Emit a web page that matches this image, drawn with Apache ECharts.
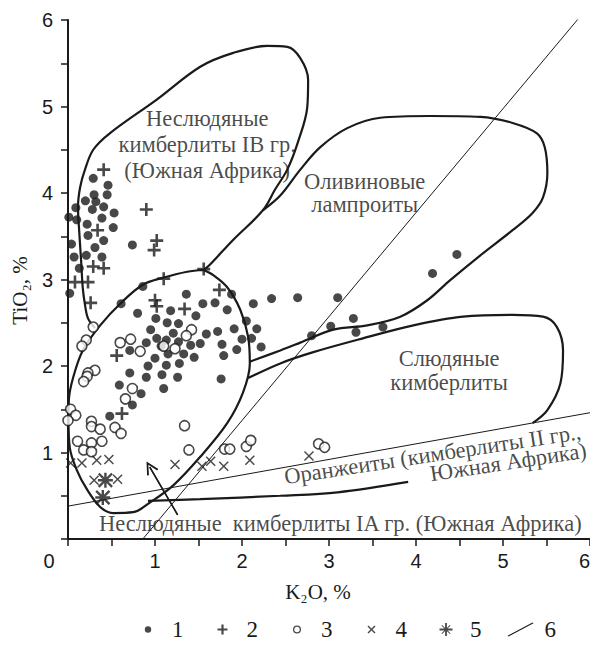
<!DOCTYPE html>
<html><head><meta charset="utf-8">
<script src="https://cdn.jsdelivr.net/npm/echarts@6/dist/echarts.min.js"></script>
<style>html,body{margin:0;padding:0;background:#fff}#c{width:590px;height:646px}</style>
</head><body><div id="c"></div>
<script>
// ---------------- data (K2O %, TiO2 %) ----------------
const xTicks = [0, 1, 2, 3, 4, 5, 6];
const yTicks = [1, 2, 3, 4, 5, 6];

// 1 — filled dots
const series1 = [
 [0.29,4.17],[0.46,4.09],[0.30,3.98],[0.45,3.98],[0.20,3.91],[0.32,3.90],[0.41,3.84],[0.09,3.83],[0.28,3.81],[0.53,3.77],
 [0.01,3.72],[0.10,3.69],[0.39,3.71],[0.22,3.64],[0.52,3.60],[0.23,3.51],[0.41,3.45],[0.04,3.41],[0.31,3.37],[0.74,3.40],
 [0.07,3.26],[0.21,3.28],[0.39,3.26],[0.13,3.13],[0.02,2.84],
 [0.86,2.92],[0.61,2.72],[1.36,2.83],[1.55,2.72],[0.80,2.61],[1.18,2.64],[1.47,2.58],[1.01,2.55],[1.14,2.50],[1.27,2.49],
 [0.95,2.42],[1.21,2.38],[1.59,2.37],[1.13,2.30],[1.27,2.28],[0.90,2.27],[1.02,2.32],[1.41,2.24],[1.52,2.26],[0.71,2.18],
 [1.07,2.23],[1.15,2.14],[1.33,2.14],[1.45,2.10],[1.00,2.09],[0.92,2.00],[1.13,2.01],[1.28,2.03],[0.71,1.92],[0.90,1.87],
 [1.08,1.90],[1.26,1.87],[0.59,1.78],[1.10,1.74],[0.84,1.68],[0.74,1.55],[0.48,1.42],
 [1.88,2.83],[2.13,2.72],[2.34,2.78],[2.64,2.79],[1.69,2.73],[1.83,2.65],[2.05,2.52],[2.17,2.43],[1.91,2.43],[1.72,2.40],
 [2.00,2.31],[2.11,2.32],[2.22,2.22],[1.77,2.25],[1.94,2.19],[1.79,2.12],[1.76,1.85],[2.80,2.35],[3.10,2.79],[4.47,3.29],
 [4.19,3.07],[3.28,2.55],[3.02,2.46],[3.31,2.39],[3.62,2.45]
];
// 2 — crosses
const series2 = [
 [0.41,4.27],[0.90,3.81],[0.34,3.57],[1.02,3.45],[0.99,3.34],[0.29,3.15],[0.41,3.13],[0.08,2.97],[0.23,2.97],[0.26,2.73],
 [1.10,3.01],[1.56,3.12],[1.00,2.76],[1.02,2.69],[1.34,2.66],[1.74,2.88],[0.56,2.12],[0.62,1.45]
];
// 3 — open circles
const series3 = [
 [0.29,2.45],[0.21,2.30],[0.16,2.23],[0.60,2.27],[0.72,2.31],[0.83,2.17],[1.42,2.42],[1.36,2.35],[1.23,2.20],[1.10,2.23],
 [0.31,1.95],[0.23,1.92],[0.22,1.88],[0.18,1.82],[0.74,1.74],[0.66,1.62],[0.03,1.50],[0.09,1.43],[0.00,1.37],[0.27,1.36],
 [0.27,1.30],[0.37,1.27],[0.54,1.29],[0.61,1.22],[0.11,1.13],[0.27,1.11],[0.39,1.13],[0.18,1.03],[0.27,1.01],[1.34,1.31],
 [1.39,1.03],[1.80,1.04],[1.86,1.04],[2.05,1.07],[2.10,1.14],[2.88,1.10],[2.95,1.06]
];
// 4 — x marks
const series4 = [
 [0.03,0.88],[0.16,0.88],[0.33,0.91],[0.47,0.92],[0.30,0.68],[0.57,0.69],[1.23,0.86],[1.54,0.84],[1.64,0.90],[1.79,0.84],
 [2.09,0.91],[2.77,0.96]
];
// 5 — asterisks
const series5 = [[0.43,0.68],[0.40,0.48]];
// 6 — thin dividing line
const series6 = [[0.86,0],[5.87,6.02]];

// field outlines
const fieldIB = [
 [0.31,2.44],[0.23,2.55],[0.195,2.71],[0.17,2.90],[0.15,3.23],[0.13,3.54],[0.115,3.84],[0.14,4.07],[0.195,4.27],[0.29,4.50],
 [0.48,4.69],[1.02,5.08],[1.52,5.46],[1.90,5.62],[2.29,5.70],[2.52,5.69],[2.67,5.56],[2.76,5.31],[2.75,4.99],[2.64,4.58],
 [2.52,4.27],[2.38,4.04],[2.24,3.80],[1.90,3.46],[1.63,3.17],[1.56,3.11]
];
const fieldIA = [
 [1.56,3.11],[1.37,3.09],[1.09,3.02],[0.86,2.94],[0.62,2.74],[0.37,2.47],[0.17,2.18],[0.06,1.87],[0.01,1.61],[0.006,1.38],
 [0.02,1.06],[0.10,0.80],[0.22,0.57],[0.37,0.37],[0.52,0.30],[0.75,0.31],[0.94,0.42],[1.21,0.62],[1.52,0.95],[1.83,1.34],
 [2.01,1.69],[2.09,2.03],[2.07,2.34],[1.98,2.65],[1.83,2.91],[1.67,3.05],[1.56,3.11]
];
const fieldLamproite = [
 [2.24,3.80],[2.44,3.97],[2.67,4.27],[2.90,4.53],[3.21,4.75],[3.59,4.87],[4.16,4.89],[4.74,4.88],[5.11,4.81],[5.39,4.69],
 [5.48,4.53],[5.51,4.23],[5.46,3.95],[5.34,3.77],[5.11,3.57],[4.74,3.28],[4.39,2.99],[4.13,2.76],[3.82,2.57],[3.44,2.47],
 [3.05,2.42],[2.67,2.27],[2.44,2.18],[2.09,2.05]
];
const fieldMica = [
 [2.07,1.86],[2.44,2.03],[2.82,2.16],[3.39,2.32],[3.97,2.47],[4.54,2.57],[5.11,2.59],[5.46,2.57],[5.62,2.45],[5.69,2.18],
 [5.66,1.80],[5.51,1.49],[5.34,1.34]
];
const orangeiteLower = [[0.92,0.44],[1.52,0.46],[2.44,0.50],[3.10,0.54],[3.91,0.66]];
const orangeiteUpper = [[0,0.38],[6,1.46]];
const arrowLine = [[1.26,0.28],[0.94,0.83]];

// field names
const fieldTexts = [
 'Неслюдяные\nкимберлиты IB гр.\n(Южная Африка)',
 'Оливиновые\nлампроиты',
 'Слюдяные\nкимберлиты',
 'Оранжеиты (кимберлиты II гр.,',
 'Южная Африка)',
 'Неслюдяные  кимберлиты IA гр. (Южная Африка)'
];
const fieldAnchors = [[1.60,4.56],[3.41,4.00],[4.38,1.95],[4.19,0.98],[5.06,0.89],[3.13,0.18]];
const legendNames = ['1','2','3','4','5','6'];

// ---------------- styles ----------------
const INK = '#1a1a1a';
const SERIF = '"Liberation Serif","Times New Roman",serif';
const SANS = '"Liberation Sans",Arial,sans-serif';
const fieldRotate = [0,0,0,8.7,8.7,0];
const fieldLH = [26,23,24,22,22,22];

const PLUS = 'path://M4,0H6V4H10V6H6V10H4V6H0V4H4Z';
const XMARK = 'path://M0,1L1,0L5,4L9,0L10,1L6,5L10,9L9,10L5,6L1,10L0,9L4,5Z';
const ASTER = 'path://M4.2,0H5.8V4.2H10V5.8H5.8V10H4.2V5.8H0V4.2H4.2Z M0,1.1L1.1,0L5,3.9L8.9,0L10,1.1L6.1,5L10,8.9L8.9,10L5,6.1L1.1,10L0,8.9L3.9,5Z';
const CHEVRON = 'path://M0,12L6,0L12,12L10.4,12.7L6,3.6L1.6,12.7Z';

const legIcons = [
 'path://M0,0M26,14M9.8,7A3.2,3.2 0 1,0 16.2,7A3.2,3.2 0 1,0 9.8,7Z',
 'path://M0,0M26,14M11.9,2H14.1V5.9H18V8.1H14.1V12H11.9V8.1H8V5.9H11.9Z',
 'path://M0,0M26,14M9,7A4,4 0 1,0 17,7A4,4 0 1,0 9,7Z M10.3,7A2.7,2.7 0 1,1 15.7,7A2.7,2.7 0 1,1 10.3,7Z',
 'path://M0,0M26,14M9,4L10,3L13,6L16,3L17,4L14,7L17,10L16,11L13,8L10,11L9,10L12,7Z',
 'path://M0,0M26,14M12.1,0.5H13.9V6.1H19.5V7.9H13.9V13.5H12.1V7.9H6.5V6.1H12.1Z M8.4,3.1L9.1,2.4L13,6.3L16.9,2.4L17.6,3.1L13.7,7L17.6,10.9L16.9,11.6L13,7.7L9.1,11.6L8.4,10.9L12.3,7Z',
 'path://M0,13.3L1,14L26,0.7L25,0Z'
];

function outline(data, w) {
  return {type:'line', data, smooth:0.35, symbol:'none', silent:true, z:1,
    lineStyle:{color:INK, width:w}, itemStyle:{color:INK}};
}
function pts(name, data, symbol, size, style) {
  return {type:'scatter', name, data, symbol, symbolSize:size, z:5, silent:true,
    itemStyle:Object.assign({color:INK}, style||{})};
}

const labelData = fieldTexts.map((t,i)=>({
  value: fieldAnchors[i],
  label:{formatter:t, rotate:fieldRotate[i], lineHeight:fieldLH[i]}
}));

const option = {
  animation:false,
  backgroundColor:'#fff',
  grid:{left:68, right:0, top:20, bottom:107, containLabel:false, outerBoundsMode:'none'},
  xAxis:{
    type:'value', min:0, max:6, interval:0.5,
    axisLine:{show:true, onZero:false, lineStyle:{color:INK, width:2}},
    axisTick:{show:true, length:7, lineStyle:{color:INK, width:1.5}},
    splitLine:{show:false},
    axisLabel:{margin:12, color:INK, fontFamily:SANS, fontSize:20, alignMaxLabel:'right',
      formatter:v=> v===xTicks[0] ? '{z|0}' : (xTicks.indexOf(v)>=0 ? String(v) : ''),
      rich:{z:{padding:[0,38,0,0], fontFamily:SANS, fontSize:20, color:INK}}},
    name:'K₂O, %', nameLocation:'middle', nameGap:42,
    nameTextStyle:{fontFamily:SERIF, fontSize:21, color:INK, padding:[0,22,0,0]}
  },
  yAxis:{
    type:'value', min:0, max:6, interval:0.5,
    axisLine:{show:true, onZero:false, lineStyle:{color:INK, width:2}},
    axisTick:{show:true, length:7, lineStyle:{color:INK, width:1.5}},
    splitLine:{show:false},
    axisLabel:{margin:15, color:INK, fontFamily:SANS, fontSize:20,
      formatter:v=> yTicks.indexOf(v)>=0 ? String(v) : ''},
    name:'TiO₂, %', nameLocation:'middle', nameRotate:90, nameGap:34,
    nameTextStyle:{fontFamily:SERIF, fontSize:21, color:INK, padding:[0,22,0,0]}
  },
  legend:{
    left:130, top:613, orient:'horizontal', itemWidth:26, itemHeight:14, itemGap:26,
    selectedMode:false,
    textStyle:{fontFamily:SERIF, fontSize:23, color:INK, padding:[0,0,0,6]},
    data: legendNames.map((n,i)=>({name:n, icon:legIcons[i], itemStyle:{color:INK, borderWidth:0}}))
  },
  series:[
    outline(fieldIB, 2.2),
    outline(fieldIA, 2.2),
    outline(fieldLamproite, 2.2),
    outline(fieldMica, 2.2),
    outline(orangeiteLower, 2.2),
    Object.assign(outline(orangeiteUpper, 1), {smooth:false}),
    Object.assign(outline(arrowLine, 1.4), {smooth:false,
      markLine:{silent:true, symbol:['none', CHEVRON], symbolSize:13, label:{show:false},
        lineStyle:{color:INK, width:1.4, type:'solid'},
        data:[[{coord:arrowLine[0]},{coord:arrowLine[1]}]]}}),
    {type:'line', name:legendNames[5], data:series6, symbol:'none', silent:true, z:2,
      lineStyle:{color:INK, width:1}, itemStyle:{color:INK}},
    pts(legendNames[0], series1, 'circle', 9),
    pts(legendNames[1], series2, PLUS, 13),
    pts(legendNames[2], series3, 'circle', 10, {color:'#fff', borderColor:INK, borderWidth:1.6}),
    pts(legendNames[3], series4, XMARK, 10),
    pts(legendNames[4], series5, ASTER, 15),
    {type:'scatter', name:'labels', data:labelData, symbolSize:0, silent:true, z:6,
      label:{show:true, position:'inside', color:INK, fontFamily:SERIF, fontSize:22.5, align:'center', verticalAlign:'middle'}}
  ]
};

const chart = echarts.init(document.getElementById('c'), null, {renderer:'svg', width:590, height:646});
chart.setOption(option);
</script>
</body></html>
